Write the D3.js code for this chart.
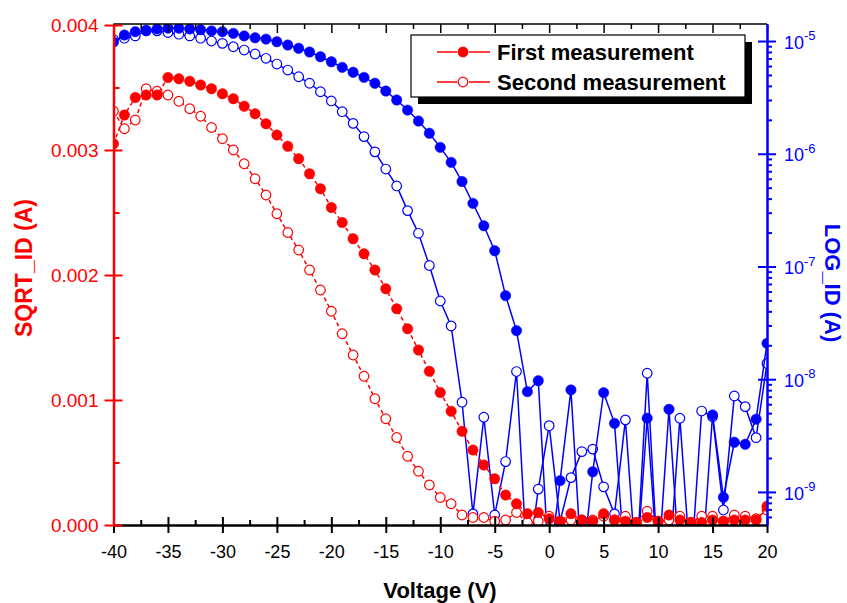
<!DOCTYPE html>
<html>
<head>
<meta charset="utf-8">
<script src="https://cdn.jsdelivr.net/npm/d3@7"></script>
<style>
  body { margin: 0; background: #fff; }
  svg { display: block; font-family: "Liberation Sans", Arial, sans-serif; }
</style>
</head>
<body>
<svg id="chart" width="847" height="603"></svg>
<script>
// gate voltage sweep, 1 V steps
const voltage = [-40,-39,-38,-37,-36,-35,-34,-33,-32,-31,-30,-29,-28,-27,-26,-25,-24,-23,-22,-21,
  -20,-19,-18,-17,-16,-15,-14,-13,-12,-11,-10,-9,-8,-7,-6,-5,-4,-3,-2,-1,
  0,1,2,3,4,5,6,7,8,9,10,11,12,13,14,15,16,17,18,19,20];

// SQRT_ID (A), left axis
const sqrtFirst = [0.00305,0.00328,0.00342,0.00344,0.00344,0.00358,0.00357,0.00355,0.00352,0.00349,
  0.00345,0.00341,0.00335,0.00329,0.00321,0.00312,0.00303,0.00293,0.00281,0.00269,
  0.00254,0.00242,0.00229,0.00217,0.00204,0.00189,0.00173,0.00157,0.00140,0.00123,
  0.00106,0.00091,0.00075,0.00060,0.00048,0.00037,0.00024,0.00017,0.00009,0.00010,
  0.00005,0.00003,0.00009,0.00004,0.00003,0.00009,0.00004,0.00003,0.00002,0.00006,
  0.00003,0.00008,0.00004,0.00002,0.00002,0.00004,0.00003,0.00004,0.00004,0.00004,0.00015];
const sqrtSecond = [0.00331,0.00317,0.00324,0.00349,0.00347,0.00344,0.00339,0.00333,0.00327,0.00318,
  0.00309,0.00300,0.00289,0.00277,0.00264,0.00249,0.00234,0.00220,0.00204,0.00188,
  0.00171,0.00153,0.00136,0.00119,0.00101,0.00085,0.00070,0.00055,0.00043,0.00032,
  0.00022,0.00017,0.00008,0.00006,0.00006,0.00003,0.00004,0.00010,0.00002,0.00003,
  0.00007,0.00003,0.00004,0.00004,0.00004,0.00007,0.00004,0.00007,0.00002,0.00011,
  0.00003,0.00004,0.00007,0.00002,0.00007,0.00007,0.00003,0.00008,0.00007,0.00005,0.00012];

// LOG_ID (A), right axis (2e-10 = below the visible range)
const logFirst = [9.80e-6,1.13e-5,1.21e-5,1.25e-5,1.28e-5,1.30e-5,1.30e-5,1.28e-5,1.26e-5,1.23e-5,
  1.21e-5,1.17e-5,1.11e-5,1.07e-5,1.04e-5,9.86e-6,9.22e-6,8.62e-6,7.99e-6,7.26e-6,
  6.55e-6,5.84e-6,5.28e-6,4.76e-6,4.22e-6,3.60e-6,3.00e-6,2.44e-6,1.95e-6,1.52e-6,
  1.14e-6,8.39e-7,5.67e-7,3.63e-7,2.30e-7,1.38e-7,5.51e-8,2.70e-8,7.76e-9,9.70e-9,
  2e-10,1.26e-9,8.04e-9,2e-10,1.51e-9,7.60e-9,4.06e-9,2e-10,2e-10,4.51e-9,
  2e-10,5.41e-9,2e-10,2e-10,2e-10,4.82e-9,8.97e-10,2.76e-9,2.65e-9,4.42e-9,2.08e-8];
const logSecond = [1.03e-5,1.06e-5,1.11e-5,1.23e-5,1.23e-5,1.19e-5,1.15e-5,1.11e-5,1.06e-5,1.00e-5,
  9.54e-6,8.90e-6,8.32e-6,7.67e-6,7.03e-6,6.25e-6,5.53e-6,4.82e-6,4.22e-6,3.55e-6,
  2.94e-6,2.36e-6,1.86e-6,1.42e-6,1.04e-6,7.32e-7,5.18e-7,3.13e-7,1.97e-7,1.02e-7,
  4.94e-8,2.97e-8,6.25e-9,6.38e-10,4.60e-9,6.25e-10,1.86e-9,1.17e-8,2e-10,1.06e-9,
  3.87e-9,5.46e-10,1.34e-9,2.28e-9,2.40e-9,1.11e-9,6.38e-10,4.36e-9,2e-10,1.13e-8,
  2e-10,2e-10,4.51e-9,2e-10,5.22e-9,4.66e-9,6.92e-10,7.10e-9,5.71e-9,3.03e-9,1.38e-8];

const xTicks = [-40,-35,-30,-25,-20,-15,-10,-5,0,5,10,15,20];
const sqrtTicks = [0,0.001,0.002,0.003,0.004];
const logTicks = [1e-9,1e-8,1e-7,1e-6,1e-5];
const logTickExp = ["-9","-8","-7","-6","-5"];
const legendLabels = ["First measurement","Second measurement"];

const plotLeft = 113.5, plotRight = 767, plotTop = 24, plotBottom = 525;
const svg = d3.select("#chart");

let x = d3.scaleLinear().domain([-40, 20]).range([plotLeft, plotRight]);
let ySqrt = d3.scaleLinear().domain([0, 0.004]).range([plotBottom, 25]);
let yLog = d3.scaleLog().domain([5.09e-10, 1.416e-5]).range([plotBottom, plotTop]);

svg.append("clipPath").attr("id", "plotClip")
  .append("rect").attr("x", plotLeft).attr("y", plotTop)
  .attr("width", plotRight - plotLeft).attr("height", plotBottom - plotTop);

// ---- data ----
let plot = svg.append("g").attr("clip-path", "url(#plotClip)");

function draw_series(values, yScale, color, filled, dash)
{
  let pts = voltage.map(function(v, i){ return [v, values[i]]; });
  let line = d3.line()
    .x(function(d){ return x(d[0]); })
    .y(function(d){ return yScale(d[1]); });

  plot.append("path")
    .datum(pts)
    .attr("d", line)
    .attr("fill", "none")
    .attr("stroke", color)
    .attr("stroke-width", 1.5)
    .attr("stroke-dasharray", dash);

  plot.append("g").selectAll("circle")
    .data(pts)
    .enter().append("circle")
    .attr("cx", function(d){ return x(d[0]); })
    .attr("cy", function(d){ return yScale(d[1]); })
    .attr("r", filled ? 5.2 : 4.8)
    .attr("fill", filled ? color : "#fff")
    .attr("stroke", color)
    .attr("stroke-width", filled ? 0.5 : 1.2);
}

draw_series(logSecond, yLog, "#0000ff", false, null);
draw_series(logFirst, yLog, "#0000ff", true, null);
draw_series(sqrtSecond, ySqrt, "#ff0000", false, "4,3");
draw_series(sqrtFirst, ySqrt, "#ff0000", true, "4,3");

// ---- axes ----
const tickFont = 18;

// top frame
svg.append("line").attr("x1", plotLeft).attr("x2", plotRight).attr("y1", plotTop).attr("y2", plotTop)
  .attr("stroke", "#000").attr("stroke-width", 1.5);
let topMajor = svg.append("g").attr("transform", "translate(0," + plotTop + ")")
  .call(d3.axisTop(x).tickValues(xTicks).tickSize(-9).tickSizeOuter(0).tickFormat(""));
let topMinor = svg.append("g").attr("transform", "translate(0," + plotTop + ")")
  .call(d3.axisTop(x).tickValues(d3.range(-37.5, 20, 5)).tickSize(-5).tickSizeOuter(0).tickFormat(""));
[topMajor, topMinor].forEach(function(g){
  g.select(".domain").remove();
  g.selectAll("line").attr("stroke", "#000").attr("stroke-width", 1.5);
});

// bottom axis (plain hyphen minus, like the original)
let xAxis = svg.append("g").attr("transform", "translate(0," + plotBottom + ")")
  .call(d3.axisBottom(x).tickValues(xTicks).tickSize(8).tickSizeOuter(0).tickPadding(12)
    .tickFormat(function(d){ return String(d); }));
xAxis.selectAll(".tick line").attr("y1", -8).attr("y2", 8);
let xMinor = svg.append("g").attr("transform", "translate(0," + plotBottom + ")")
  .call(d3.axisBottom(x).tickValues(d3.range(-37.5, 20, 5)).tickSize(-5).tickSizeOuter(0).tickFormat(""));
xMinor.select(".domain").remove();
[xAxis, xMinor].forEach(function(g){
  g.selectAll("line").attr("stroke", "#000").attr("stroke-width", 2);
});
xAxis.select(".domain").attr("stroke", "#000").attr("stroke-width", 2.5);
xAxis.selectAll("text").attr("fill", "#000").attr("font-size", tickFont)
  .attr("font-family", "Liberation Sans, Arial, sans-serif");

// left axis (red)
let yAxisL = svg.append("g").attr("transform", "translate(" + plotLeft + ",0)")
  .call(d3.axisLeft(ySqrt).tickValues(sqrtTicks).tickSize(9).tickSizeOuter(0)
    .tickPadding(6).tickFormat(d3.format(".3f")));
yAxisL.selectAll(".tick line").attr("x1", 9).attr("x2", -9);
let yMinorL = svg.append("g").attr("transform", "translate(" + plotLeft + ",0)")
  .call(d3.axisLeft(ySqrt).tickValues([0.0005,0.0015,0.0025,0.0035]).tickSize(-6).tickSizeOuter(0).tickFormat(""));
yMinorL.select(".domain").remove();
[yAxisL, yMinorL].forEach(function(g){
  g.selectAll("line").attr("stroke", "#ff0000").attr("stroke-width", 2);
});
yAxisL.select(".domain").attr("stroke", "#ff0000").attr("stroke-width", 2.5);
yAxisL.selectAll("text").attr("fill", "#ff0000").attr("font-size", 19)
  .attr("font-family", "Liberation Sans, Arial, sans-serif");

// right axis (blue, log)
let minorLog = [];
for (let e = -10; e <= -5; e++)
{
  for (let m = 2; m <= 9; m++)
  {
    let v = m * Math.pow(10, e);
    if (v > yLog.domain()[0] && v < yLog.domain()[1]) minorLog.push(v);
  }
}
let yAxisR = svg.append("g").attr("transform", "translate(" + plotRight + ",0)")
  .call(d3.axisRight(yLog).tickValues(logTicks).tickSize(9).tickSizeOuter(0).tickFormat(""));
yAxisR.selectAll(".tick line").attr("x1", -9).attr("x2", 9);
let yMinorR = svg.append("g").attr("transform", "translate(" + plotRight + ",0)")
  .call(d3.axisRight(yLog).tickValues(minorLog).tickSize(5).tickSizeOuter(0).tickFormat(""));
yMinorR.select(".domain").remove();
[yAxisR, yMinorR].forEach(function(g){
  g.selectAll("line").attr("stroke", "#0000ff").attr("stroke-width", 2);
});
yAxisR.select(".domain").attr("stroke", "#0000ff").attr("stroke-width", 2.5);

let logLabel = yAxisR.selectAll(".tick").append("text")
  .attr("x", 17).attr("dy", "0.4em")
  .attr("fill", "#0000ff").attr("font-size", 18).attr("text-anchor", "start")
  .attr("font-family", "Liberation Sans, Arial, sans-serif");
logLabel.append("tspan").text("10");
logLabel.append("tspan").attr("dy", "-0.65em").attr("font-size", 13)
  .text(function(d, i){ return logTickExp[i]; });

// ---- titles ----
svg.append("text").attr("x", 440).attr("y", 598).attr("text-anchor", "middle")
  .attr("font-size", 22).attr("font-weight", "bold").attr("fill", "#000")
  .text("Voltage (V)");
svg.append("text").attr("transform", "translate(32,268) rotate(-90)").attr("text-anchor", "middle")
  .attr("font-size", 23).attr("font-weight", "bold").attr("fill", "#ff0000")
  .text("SQRT_ID (A)");
svg.append("text").attr("transform", "translate(825,283) rotate(90)").attr("text-anchor", "middle")
  .attr("font-size", 22).attr("font-weight", "bold").attr("fill", "#0000ff")
  .text("LOG_ID (A)");

// ---- legend ----
let legend = svg.append("g");
legend.append("rect").attr("x", 418).attr("y", 42).attr("width", 334).attr("height", 62).attr("fill", "#000");
legend.append("rect").attr("x", 411).attr("y", 35).attr("width", 334).attr("height", 62)
  .attr("fill", "#fff").attr("stroke", "#000").attr("stroke-width", 1.2);

let rows = legend.selectAll(".row").data(legendLabels).enter().append("g")
  .attr("transform", function(d, i){ return "translate(0," + (52 + i * 30) + ")"; });
rows.append("line").attr("x1", 437).attr("x2", 490).attr("stroke", "#ff0000").attr("stroke-width", 1.5);
rows.append("circle").attr("cx", 463).attr("r", 5)
  .attr("fill", function(d, i){ return i == 0 ? "#ff0000" : "#fff"; })
  .attr("stroke", "#fff").attr("stroke-width", 2);
rows.append("circle").attr("cx", 463).attr("r", 4.8)
  .attr("fill", function(d, i){ return i == 0 ? "#ff0000" : "#fff"; })
  .attr("stroke", "#ff0000").attr("stroke-width", 1.2);
rows.append("text").attr("x", 497).attr("dy", "0.36em")
  .attr("font-size", 22).attr("font-weight", "bold").attr("fill", "#000")
  .text(function(d){ return d; });
</script>
</body>
</html>
